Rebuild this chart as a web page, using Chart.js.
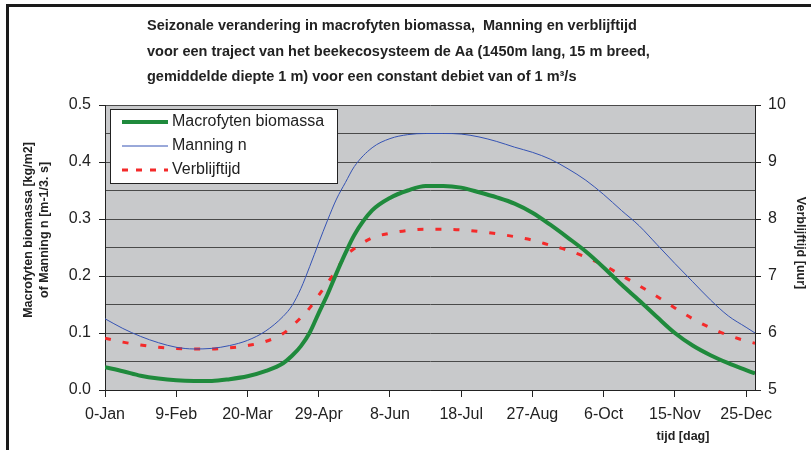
<!DOCTYPE html>
<html lang="nl">

<head>
    <meta charset="UTF-8">
    <title>Seizonale verandering macrofyten</title>
    <script src="https://cdn.jsdelivr.net/npm/chart.js@4.4.1/dist/chart.umd.min.js"></script>
    <style>
        body { margin: 0; background: #fff; }
    </style>
</head>

<body>
    <canvas id="myChart" width="811" height="450"></canvas>
    <script>
        // dag van het jaar
        var days = [0, 10, 20, 30, 40, 50, 60, 70, 80, 90, 100, 105, 110, 115, 120, 125, 130, 135, 140,
            150, 160, 170, 180, 190, 200, 210, 220, 230, 240, 250, 260, 270, 280, 290, 300, 310, 320,
            330, 340, 350, 360, 365];

        // kg/m2
        var biomassa = [0.040, 0.033, 0.025, 0.020, 0.017, 0.016, 0.016, 0.019, 0.024, 0.033, 0.047,
            0.060, 0.077, 0.101, 0.135, 0.168, 0.205, 0.240, 0.272, 0.315, 0.337, 0.350, 0.358, 0.358,
            0.355, 0.347, 0.338, 0.327, 0.311, 0.290, 0.267, 0.243, 0.215, 0.185, 0.157, 0.128, 0.100,
            0.078, 0.061, 0.047, 0.035, 0.029];

        // Manning n
        var manning = [0.125, 0.108, 0.094, 0.083, 0.075, 0.072, 0.073, 0.078, 0.087, 0.103, 0.129,
            0.148, 0.178, 0.217, 0.258, 0.298, 0.335, 0.364, 0.392, 0.425, 0.441, 0.448, 0.450, 0.450,
            0.449, 0.444, 0.436, 0.426, 0.417, 0.405, 0.388, 0.368, 0.343, 0.315, 0.288, 0.255, 0.222,
            0.190, 0.158, 0.130, 0.110, 0.100];

        // uur
        var verblijftijd = [5.91, 5.84, 5.79, 5.75, 5.73, 5.72, 5.72, 5.74, 5.78, 5.85, 5.99,
            6.12, 6.27, 6.44, 6.66, 6.88, 7.11, 7.35, 7.48, 7.67, 7.75, 7.80, 7.82, 7.82,
            7.81, 7.78, 7.74, 7.69, 7.63, 7.54, 7.45, 7.33, 7.19, 7.01, 6.83, 6.64, 6.44,
            6.25, 6.09, 5.96, 5.86, 5.82];

        var xTickDays = [0, 40, 80, 120, 160, 200, 240, 280, 320, 360];
        var xTickLabels = ['0-Jan', '9-Feb', '20-Mar', '29-Apr', '8-Jun', '18-Jul', '27-Aug', '6-Oct', '15-Nov', '25-Dec'];

        var titleLines = [
            'Seizonale verandering in macrofyten biomassa,  Manning en verblijftijd',
            'voor een traject van het beekecosysteem de Aa (1450m lang, 15 m breed,',
            'gemiddelde diepte 1 m) voor een constant debiet van of 1 m³/s'
        ];

        var FONT = '"Liberation Sans", Arial, sans-serif';
        var TEXT = '#222';

        function pairs(ys) {
            return days.map(function (d, i) { return { x: d, y: ys[i] }; });
        }

        function isMajor(v) {
            return Math.abs(v * 10 - Math.round(v * 10)) < 1e-6;
        }

        var decor = {
            id: 'decor',
            beforeDraw: function (chart) {
                var ctx = chart.ctx, a = chart.chartArea;
                ctx.save();
                ctx.fillStyle = '#fff';
                ctx.fillRect(0, 0, chart.width, chart.height);
                ctx.fillStyle = '#c8c9cb';
                ctx.fillRect(a.left, a.top, a.right - a.left, a.bottom - a.top);
                ctx.restore();
            },
            afterDatasetsDraw: function (chart) {
                var ctx = chart.ctx;
                // legend box
                var lx = 110, ly = 109, lw = 227, lh = 74;
                ctx.save();
                ctx.fillStyle = '#fff';
                ctx.fillRect(lx, ly, lw, lh);
                ctx.strokeStyle = '#222';
                ctx.lineWidth = 1;
                ctx.strokeRect(lx + 0.5, ly + 0.5, lw, lh);
                ctx.font = '16px ' + FONT;
                ctx.textBaseline = 'middle';
                chart.data.datasets.forEach(function (ds, i) {
                    var y = ly + 13 + i * 24;
                    ctx.strokeStyle = ds.borderColor;
                    ctx.lineWidth = ds.borderWidth;
                    ctx.setLineDash(ds.legendDash || []);
                    ctx.beginPath();
                    ctx.moveTo(lx + 12, y);
                    ctx.lineTo(lx + 58, y);
                    ctx.stroke();
                    ctx.setLineDash([]);
                    ctx.fillStyle = TEXT;
                    ctx.fillText(ds.label, lx + 62, y);
                });
                ctx.restore();
            },
            afterDraw: function (chart) {
                var ctx = chart.ctx;
                ctx.save();
                // outer frame
                ctx.strokeStyle = '#1a1a1a';
                ctx.lineWidth = 3;
                ctx.strokeRect(7.5, 5.5, 900, 900);

                // title
                ctx.fillStyle = TEXT;
                ctx.font = 'bold 14.5px ' + FONT;
                ctx.textBaseline = 'middle';
                ctx.textAlign = 'left';
                titleLines.forEach(function (t, i) {
                    ctx.fillText(t, 147, 26 + i * 25.5);
                });

                // axis titles
                ctx.font = 'bold 12.5px ' + FONT;
                ctx.textAlign = 'center';
                ctx.save();
                ctx.translate(29, 230);
                ctx.rotate(-Math.PI / 2);
                ctx.fillText('Macrofyten biomassa [kg/m2]', 0, 0);
                ctx.fillText('of Manning n [m-1/3. s]', 0, 16);
                ctx.restore();

                ctx.save();
                ctx.translate(800, 243);
                ctx.rotate(Math.PI / 2);
                ctx.fillText('Verblijftijd [uur]', 0, 0);
                ctx.restore();

                ctx.fillText('tijd [dag]', 683, 437);
                ctx.restore();
            }
        };

        var ctx = document.getElementById('myChart');
        var myChart = new Chart(ctx, {
            type: 'line',
            data: {
                datasets: [{
                    label: 'Macrofyten biomassa',
                    data: pairs(biomassa),
                    yAxisID: 'y',
                    borderColor: '#1f8a3c',
                    borderWidth: 4,
                    cubicInterpolationMode: 'monotone'
                }, {
                    label: 'Manning n',
                    data: pairs(manning),
                    yAxisID: 'y',
                    borderColor: '#3553b4',
                    borderWidth: 1,
                    cubicInterpolationMode: 'monotone'
                }, {
                    label: 'Verblijftijd',
                    data: pairs(verblijftijd),
                    yAxisID: 'y2',
                    borderColor: '#f42a2a',
                    borderWidth: 3,
                    borderDash: [6, 12],
                    legendDash: [6, 8],
                    cubicInterpolationMode: 'monotone'
                }]
            },
            options: {
                responsive: false,
                animation: false,
                devicePixelRatio: 1,
                layout: { padding: { top: 105, left: 0, right: 0, bottom: 0 } },
                elements: { point: { radius: 0 } },
                plugins: {
                    legend: { display: false },
                    title: { display: false },
                    tooltip: { enabled: false }
                },
                scales: {
                    x: {
                        type: 'linear',
                        min: 0,
                        max: 365,
                        afterFit: function (s) { s.height = 60; },
                        afterBuildTicks: function (s) {
                            s.ticks = xTickDays.map(function (d) { return { value: d }; });
                        },
                        ticks: {
                            autoSkip: false,
                            maxRotation: 0,
                            padding: 8,
                            color: TEXT,
                            font: { family: FONT, size: 16 },
                            callback: function (v) {
                                var i = xTickDays.indexOf(v);
                                return i < 0 ? '' : xTickLabels[i];
                            }
                        },
                        grid: { drawOnChartArea: false, tickLength: 7, tickColor: '#222' },
                        border: { color: '#222', width: 1 }
                    },
                    y: {
                        position: 'left',
                        min: 0,
                        max: 0.5,
                        afterFit: function (s) { s.width = 105; },
                        ticks: {
                            stepSize: 0.05,
                            padding: 8,
                            color: TEXT,
                            font: { family: FONT, size: 16 },
                            callback: function (v) { return isMajor(v) ? v.toFixed(1) : ''; }
                        },
                        grid: {
                            color: '#4a4a4a',
                            lineWidth: 1,
                            tickLength: 6,
                            tickColor: function (c) {
                                return c.tick && isMajor(c.tick.value) ? '#222' : 'rgba(0,0,0,0)';
                            }
                        },
                        border: { color: '#222', width: 1 }
                    },
                    y2: {
                        position: 'right',
                        min: 5,
                        max: 10,
                        afterFit: function (s) { s.width = 56; },
                        ticks: {
                            stepSize: 1,
                            padding: 7,
                            color: TEXT,
                            font: { family: FONT, size: 16 }
                        },
                        grid: { drawOnChartArea: false, tickLength: 6, tickColor: '#222' },
                        border: { color: '#222', width: 1 }
                    }
                }
            },
            plugins: [decor]
        });
    </script>
</body>

</html>
